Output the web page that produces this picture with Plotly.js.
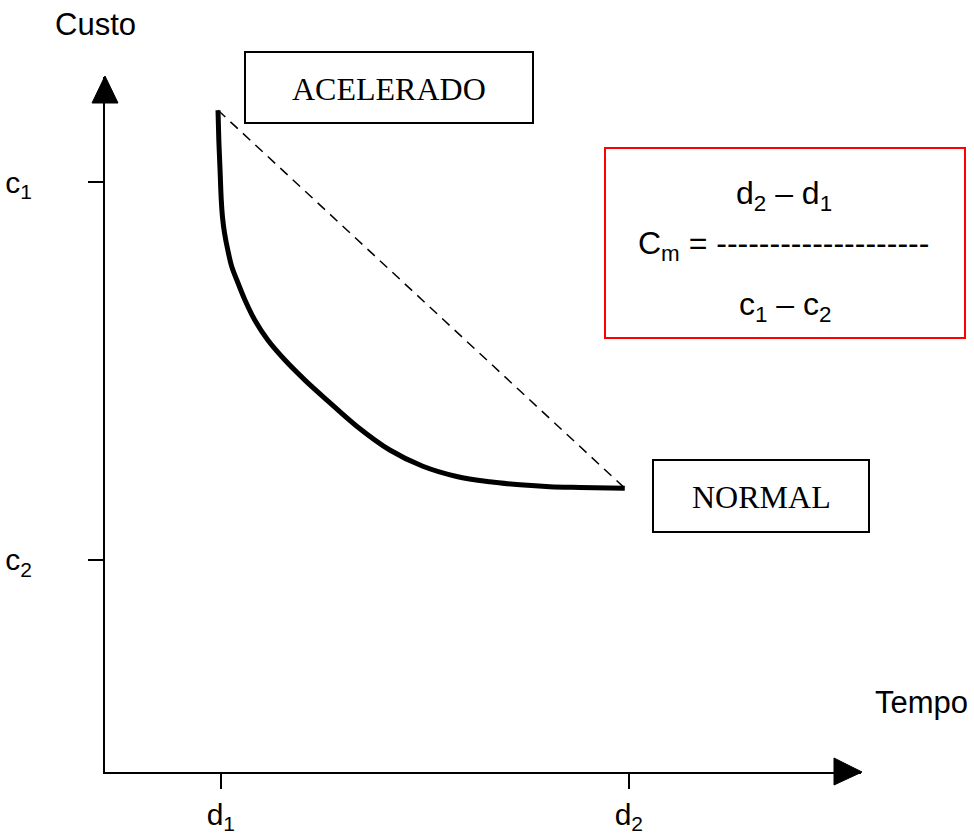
<!DOCTYPE html>
<html>
<head>
<meta charset="utf-8">
<script src="https://cdn.plot.ly/plotly-3.0.1.min.js"></script>
<style>
  html, body { margin: 0; padding: 0; background: #fff; }
  #chart { width: 974px; height: 839px; }
</style>
</head>
<body>
<div id="chart"></div>
<script>
// tick positions on the two axes
const dValues = [1, 2];
const dLabels = ["d<sub>1</sub>", "d<sub>2</sub>"];
const cValues = [1, 2];
const cLabels = ["c<sub>2</sub>", "c<sub>1</sub>"];

// cost curve, from crashed (acelerado) to normal
const curveX = [0.993, 0.995, 0.998, 1.001, 1.004, 1.009, 1.017, 1.027, 1.042, 1.059, 1.083, 1.115, 1.157, 1.206, 1.26, 1.333, 1.414, 1.495, 1.578, 1.659, 1.733, 1.806, 1.88, 1.99];
const curveY = [2.19, 2.111, 2.032, 1.952, 1.907, 1.865, 1.82, 1.775, 1.733, 1.688, 1.635, 1.582, 1.529, 1.476, 1.423, 1.354, 1.291, 1.248, 1.221, 1.207, 1.199, 1.194, 1.192, 1.19];

// straight chord between the two end points
const chordX = [0.993, 1.99];
const chordY = [2.19, 1.19];

const formulaTop = "d<sub>2</sub> – d<sub>1</sub>";
const formulaMid = "C<sub>m</sub> = --------------------";
const formulaBottom = "c<sub>1</sub> – c<sub>2</sub>";

(function drawChart() {
  const W = 974, H = 839;
  const L = 105, R = 861, T = 77, B = 772;
  const fx = (p) => (p - L) / (R - L);
  const fy = (p) => (B - p) / (B - T);

  const sans = "Liberation Sans, Arial, sans-serif";
  const serif = "Liberation Serif, Times New Roman, serif";

  const traces = [
    {
      x: chordX,
      y: chordY,
      type: "scatter",
      mode: "lines",
      line: { color: "#000", width: 1.5, dash: "10px,7px" },
      hoverinfo: "skip",
    },
    {
      x: curveX,
      y: curveY,
      type: "scatter",
      mode: "lines",
      line: { color: "#000", width: 5, shape: "spline", smoothing: 1 },
      hoverinfo: "skip",
    },
  ];

  function rect(x0, y0, x1, y1, color) {
    return {
      type: "rect", xref: "paper", yref: "paper",
      x0: fx(x0), x1: fx(x1), y0: fy(y0), y1: fy(y1),
      line: { color: color, width: 2 },
      fillcolor: "rgba(0,0,0,0)",
    };
  }

  function tri(pts) {
    const d = pts.map((p, i) => (i ? "L" : "M") + fx(p[0]) + "," + fy(p[1])).join(" ") + " Z";
    return {
      type: "path", xref: "paper", yref: "paper", path: d,
      fillcolor: "#000", line: { color: "#000", width: 1 },
    };
  }

  function label(text, x, y, size, font, xanchor) {
    return {
      text: text, xref: "paper", yref: "paper",
      x: fx(x), y: fy(y), xanchor: xanchor || "center", yanchor: "middle",
      showarrow: false, font: { family: font, size: size, color: "#000" },
    };
  }

  const layout = {
    width: W,
    height: H,
    margin: { l: L, r: W - R, t: T, b: H - B, pad: 0 },
    paper_bgcolor: "#fff",
    plot_bgcolor: "#fff",
    showlegend: false,
    xaxis: {
      range: [0.716, 2.569],
      tickvals: dValues,
      ticktext: dLabels,
      ticks: "outside",
      ticklen: 15,
      tickwidth: 2,
      tickcolor: "#000",
      showline: true,
      linecolor: "#000",
      linewidth: 2,
      showgrid: false,
      zeroline: false,
      fixedrange: true,
      tickfont: { family: sans, size: 30, color: "#000" },
    },
    yaxis: {
      range: [0.439, 2.278],
      tickvals: cValues,
      ticktext: cLabels,
      ticks: "outside",
      ticklen: 15,
      tickwidth: 2,
      tickcolor: "#000",
      ticklabelstandoff: 50,
      showline: true,
      linecolor: "#000",
      linewidth: 2,
      showgrid: false,
      zeroline: false,
      fixedrange: true,
      tickfont: { family: sans, size: 30, color: "#000" },
    },
    shapes: [
      tri([[105, 76], [92, 103], [118, 103]]),
      tri([[862, 772], [834, 758], [834, 785]]),
      rect(245, 52, 533, 123, "#000"),
      rect(653, 460, 869, 532, "#000"),
      rect(605, 148, 965, 338, "#ff0000"),
    ],
    annotations: [
      label("Custo", 95, 25, 31, sans),
      label("Tempo", 921, 702, 31, sans),
      label("ACELERADO", 389, 89, 32, serif),
      label("NORMAL", 761, 497, 32, serif),
      label(formulaTop, 784, 195, 32, sans),
      label(formulaMid, 636, 245, 32, sans, "left"),
      label(formulaBottom, 785, 306, 32, sans),
    ],
  };

  Plotly.newPlot("chart", traces, layout, { displayModeBar: false, staticPlot: true });
})();
</script>
</body>
</html>
